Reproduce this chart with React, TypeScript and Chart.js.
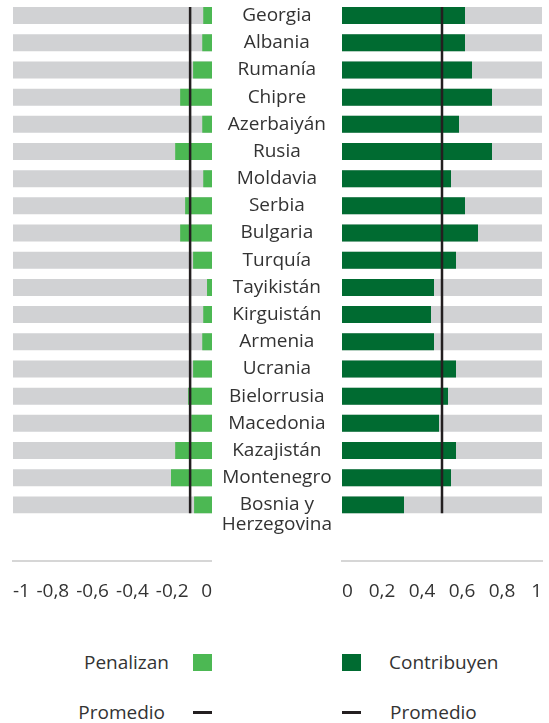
import React, { useEffect, useRef } from 'react';
import { Chart, registerables } from 'chart.js';

Chart.register(...registerables);

const countries = [
  'Georgia', 'Albania', 'Rumanía', 'Chipre', 'Azerbaiyán', 'Rusia', 'Moldavia', 'Serbia', 'Bulgaria',
  'Turquía', 'Tayikistán', 'Kirguistán', 'Armenia', 'Ucrania', 'Bielorrusia', 'Macedonia', 'Kazajistán',
  'Montenegro', 'Bosnia y Herzegovina',
];
const penalizan = [
  -0.044, -0.049, -0.095, -0.16, -0.049, -0.185, -0.044, -0.135, -0.16, -0.095, -0.025, -0.044, -0.049,
  -0.095, -0.12, -0.104, -0.185, -0.206, -0.09,
];
const contribuyen = [
  0.615, 0.615, 0.65, 0.75, 0.585, 0.75, 0.545, 0.615, 0.68, 0.57, 0.46, 0.445, 0.46, 0.57, 0.53, 0.485,
  0.57, 0.545, 0.31,
];
const promedioPenalizan = -0.11;
const promedioContribuyen = 0.5;
const leftTicks = [-1, -0.8, -0.6, -0.4, -0.2, 0];
const rightTicks = [0, 0.2, 0.4, 0.6, 0.8, 1];
const leftRange = [-1, 0];
const rightRange = [0, 1];

const LIGHT = '#4cb853';
const DARK = '#006b31';
const GRAY = '#d1d2d4';
const TEXT = '#333333';
const AVG = '#231f20';
const AXIS = '#d6d6d6';
const FONT = 'Open Sans';

const Y_MIN = -0.5;
const Y_MAX = 20.05;
const CHART_H = 622;

const fmt = (v: number) => {
  const r = Math.round(v * 10) / 10;
  if (Math.abs(r) < 1e-9) return '0';
  return r.toString().replace('.', ',');
};

const labelFor = (name: string) => {
  if (name === 'Bosnia y Herzegovina') return ['', 'Bosnia y', 'Herzegovina'];
  return name;
};

const avgLine = (value: number) => ({
  id: 'avgLine',
  afterDatasetsDraw(chart: any) {
    const meta = chart.getDatasetMeta(0);
    const first: any = meta.data[0];
    const last: any = meta.data[meta.data.length - 1];
    const x = chart.scales.x.getPixelForValue(value);
    const top = first.y - first.height / 2;
    const bottom = last.y + last.height / 2;
    const ctx = chart.ctx;
    ctx.save();
    ctx.strokeStyle = AVG;
    ctx.lineWidth = 2.5;
    ctx.beginPath();
    ctx.moveTo(x, top);
    ctx.lineTo(x, bottom);
    ctx.stroke();
    ctx.restore();
  },
});

function makeConfig(side: 'left' | 'right'): any {
  const isLeft = side === 'left';
  const values = isLeft ? penalizan : contribuyen;
  const range = isLeft ? leftRange : rightRange;
  const ticks = isLeft ? leftTicks : rightTicks;
  const full = isLeft ? range[0] : range[1];
  const barOpts = { grouped: false, categoryPercentage: 1, barPercentage: 0.625, borderWidth: 0 };
  return {
    type: 'bar',
    data: {
      datasets: [
        {
          label: isLeft ? 'Penalizan' : 'Contribuyen',
          data: values.map((v, i) => ({ x: v, y: i })),
          backgroundColor: isLeft ? LIGHT : DARK,
          order: 0,
          ...barOpts,
        },
        {
          label: 'fondo',
          data: countries.map((_, i) => ({ x: full, y: i })),
          backgroundColor: GRAY,
          order: 1,
          ...barOpts,
        },
      ],
    },
    options: {
      indexAxis: 'y',
      animation: false,
      responsive: true,
      maintainAspectRatio: false,
      layout: { padding: isLeft ? { left: 13, right: 0, top: 2, bottom: 0 } : { left: 0, right: 7, top: 2, bottom: 0 } },
      plugins: { legend: { display: false }, tooltip: { enabled: false } },
      scales: {
        y: {
          type: 'linear',
          min: Y_MIN,
          max: Y_MAX,
          offset: false,
          reverse: true,
          display: !isLeft,
          afterBuildTicks: (s: any) => {
            s.ticks = countries.map((_, i) => ({ value: i }));
          },
          afterFit: (s: any) => {
            if (!isLeft) s.width = 130;
            s.paddingTop = 0;
            s.paddingBottom = 0;
          },
          grid: { display: false, drawTicks: false, offset: false },
          border: { display: false },
          ticks: {
            autoSkip: false,
            crossAlign: 'center',
            padding: 10,
            color: TEXT,
            font: { family: FONT, size: 19, lineHeight: 20 / 19 },
            callback: (v: number) => labelFor(countries[Math.round(v)] ?? ''),
          },
        },
        x: {
          type: 'linear',
          min: range[0],
          max: range[1],
          afterBuildTicks: (s: any) => {
            s.ticks = ticks.map((v) => ({ value: v }));
          },
          afterFit: (s: any) => {
            s.paddingLeft = 0;
            s.paddingRight = 0;
          },
          grid: { display: false, drawTicks: false },
          border: { display: true, color: AXIS, width: 2 },
          ticks: {
            align: 'inner',
            autoSkip: false,
            maxRotation: 0,
            padding: 19.3,
            color: TEXT,
            font: { family: FONT, size: 19, lineHeight: 1.2 },
            callback: (v: number) => fmt(v),
          },
        },
      },
    },
    plugins: [avgLine(isLeft ? promedioPenalizan : promedioContribuyen)],
  };
}

function Panel({ side, left, width }: { side: 'left' | 'right'; left: number; width: number }) {
  const ref = useRef<HTMLCanvasElement | null>(null);
  useEffect(() => {
    if (!ref.current) return;
    const chart = new Chart(ref.current, makeConfig(side));
    return () => chart.destroy();
  }, [side]);
  return (
    <div style={{ position: 'absolute', left, top: 0, width, height: CHART_H }}>
      <canvas ref={ref} />
    </div>
  );
}

const textStyle: React.CSSProperties = {
  position: 'absolute',
  fontFamily: FONT,
  fontSize: 19,
  color: TEXT,
  lineHeight: '24px',
  whiteSpace: 'nowrap',
};

export default function App() {
  return (
    <div style={{ position: 'absolute', left: 0, top: 0, width: 549, height: 723, background: '#fff', overflow: 'hidden' }}>
      <Panel side="left" left={0} width={212} />
      <Panel side="right" left={212} width={337} />

      {/* Leyenda izquierda */}
      <div style={{ ...textStyle, right: 549 - 169, top: 650, textAlign: 'right' }}>Penalizan</div>
      <div style={{ position: 'absolute', left: 193, top: 654, width: 19, height: 17, background: LIGHT }} />
      <div style={{ ...textStyle, right: 549 - 165, top: 700, textAlign: 'right' }}>Promedio</div>
      <div style={{ position: 'absolute', left: 193, top: 711, width: 19, height: 3, background: AVG }} />

      {/* Leyenda derecha */}
      <div style={{ position: 'absolute', left: 342, top: 654, width: 19, height: 17, background: DARK }} />
      <div style={{ ...textStyle, left: 389, top: 650 }}>Contribuyen</div>
      <div style={{ position: 'absolute', left: 342, top: 711, width: 19, height: 3, background: AVG }} />
      <div style={{ ...textStyle, left: 390, top: 700 }}>Promedio</div>
    </div>
  );
}
